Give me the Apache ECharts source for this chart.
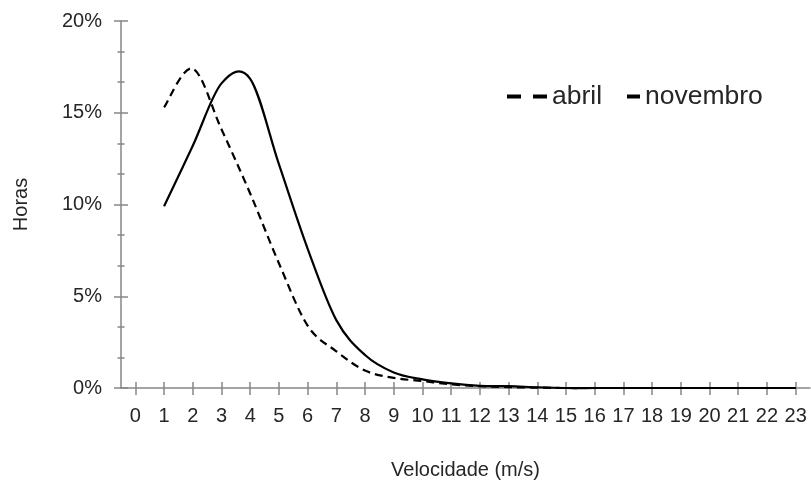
<!DOCTYPE html>
<html>
<head>
<meta charset="utf-8">
<script src="https://cdn.jsdelivr.net/npm/echarts@6/dist/echarts.min.js"></script>
<style>
  html, body { margin: 0; padding: 0; background: #ffffff; }
  #chart { width: 811px; height: 485px; }
</style>
</head>
<body>
<div id="chart"></div>
<script>
// Wind speed classes (m/s) shown along the horizontal axis
const speeds = ['0', '1', '2', '3', '4', '5', '6', '7', '8', '9', '10', '11',
                '12', '13', '14', '15', '16', '17', '18', '19', '20', '21', '22', '23'];

// Share of hours (%) per speed class
const abril = [null, 15.3, 17.4, 14.1, 10.6, 6.8, 3.4, 2.0, 0.95, 0.55, 0.38, 0.2,
               0.1, 0.05, 0.02, 0, 0, 0, 0, 0, 0, 0, 0, 0];
const novembro = [null, 9.9, 13.2, 16.6, 16.85, 12.2, 7.6, 3.7, 1.8, 0.85, 0.47, 0.25,
                  0.12, 0.1, 0.04, 0, 0, 0, 0, 0, 0, 0, 0, 0];

// Vertical scale (%)
const yMin = 0, yMax = 20, yStep = 5;

const FONT = "'Liberation Sans', Arial, sans-serif";
const TEXT = '#262626';
const AXIS = '#868686';

// [categoryIndex, value] pairs for the classes that have a value
function toPairs(values) {
  const out = [];
  values.forEach(function (v, i) { if (v != null) out.push([i, v]); });
  return out;
}

// Smoothed curve through the points (cardinal spline as cubic Béziers),
// positioned with the chart's own coordinate system.
function curveRenderer(pairs, stroke) {
  return function (params, api) {
    if (params.dataIndex !== 0) return null;
    const pts = pairs.map(function (p) { return api.coord(p); });
    let d = 'M' + pts[0][0] + ',' + pts[0][1];
    for (let i = 0; i < pts.length - 1; i++) {
      const p0 = pts[i - 1] || pts[i];
      const p1 = pts[i];
      const p2 = pts[i + 1];
      const p3 = pts[i + 2] || pts[i + 1];
      const c1x = p1[0] + (p2[0] - p0[0]) / 6, c1y = p1[1] + (p2[1] - p0[1]) / 6;
      const c2x = p2[0] - (p3[0] - p1[0]) / 6, c2y = p2[1] - (p3[1] - p1[1]) / 6;
      d += ' C' + c1x + ',' + c1y + ' ' + c2x + ',' + c2y + ' ' + p2[0] + ',' + p2[1];
    }
    return {
      type: 'path',
      shape: { pathData: d },
      style: Object.assign({ fill: 'none', stroke: '#000000', lineWidth: 2.2 }, stroke),
      silent: true
    };
  };
}

const abrilPairs = toPairs(abril);
const novembroPairs = toPairs(novembro);

const chart = echarts.init(document.getElementById('chart'), null, { renderer: 'canvas' });

const baseX = {
  type: 'category',
  data: speeds,
  boundaryGap: true,
  position: 'bottom'
};
const baseY = {
  type: 'value',
  min: yMin,
  max: yMax,
  interval: yStep,
  position: 'left'
};

chart.setOption({
  animation: false,
  backgroundColor: '#ffffff',
  textStyle: { fontFamily: FONT },
  grid: { left: 121, right: 1, top: 21, bottom: 97, containLabel: false },
  legend: [
    {
      data: ['abril'],
      left: 502, top: 78,
      icon: 'path://M0 0H14V4H0Z M26 0H40V4H26Z',
      itemWidth: 40, itemHeight: 4,
      itemStyle: { color: '#000000', borderWidth: 0 },
      textStyle: { fontFamily: FONT, fontSize: 26.5, color: TEXT }
    },
    {
      data: ['novembro'],
      left: 622, top: 78,
      icon: 'rect',
      itemWidth: 13, itemHeight: 4,
      itemStyle: { color: '#000000', borderWidth: 0 },
      textStyle: { fontFamily: FONT, fontSize: 26.5, color: TEXT }
    }
  ],
  xAxis: [
    Object.assign({}, baseX, {
      name: 'Velocidade (m/s)',
      nameLocation: 'middle',
      nameGap: 72,
      nameTextStyle: { fontFamily: FONT, fontSize: 20, color: TEXT },
      axisLine: { show: true, lineStyle: { color: AXIS, width: 1.5 } },
      axisTick: { show: true, alignWithLabel: true, length: 7, lineStyle: { color: AXIS, width: 1.5 } },
      axisLabel: { fontFamily: FONT, fontSize: 20, color: TEXT, margin: 18, interval: 0 },
      splitLine: { show: false }
    }),
    Object.assign({}, baseX, {
      axisLine: { show: false },
      axisTick: { show: true, inside: true, alignWithLabel: true, length: 6, lineStyle: { color: AXIS, width: 1.5 } },
      axisLabel: { show: false },
      splitLine: { show: false }
    })
  ],
  yAxis: [
    Object.assign({}, baseY, {
      name: 'Horas',
      nameLocation: 'middle',
      nameGap: 90,
      nameTextStyle: { fontFamily: FONT, fontSize: 20, color: TEXT },
      axisLine: { show: true, lineStyle: { color: AXIS, width: 1.5 } },
      axisTick: { show: true, length: 7, lineStyle: { color: AXIS, width: 1.5 } },
      minorTick: { show: true, splitNumber: 3, length: 3.5, lineStyle: { color: AXIS, width: 1.5 } },
      axisLabel: { fontFamily: FONT, fontSize: 20, color: TEXT, margin: 19, formatter: '{value}%' },
      splitLine: { show: false }
    }),
    Object.assign({}, baseY, {
      axisLine: { show: false },
      axisTick: { show: true, inside: true, length: 7, lineStyle: { color: AXIS, width: 1.5 } },
      minorTick: { show: true, splitNumber: 3, length: 3.5, lineStyle: { color: AXIS, width: 1.5 } },
      axisLabel: { show: false },
      splitLine: { show: false }
    })
  ],
  series: [
    {
      name: 'abril',
      type: 'custom',
      xAxisIndex: 0, yAxisIndex: 0,
      data: abrilPairs,
      encode: { x: 0, y: 1 },
      itemStyle: { color: '#000000' },
      renderItem: curveRenderer(abrilPairs, { lineDash: [8, 5] }),
      z: 3
    },
    {
      name: 'novembro',
      type: 'custom',
      xAxisIndex: 0, yAxisIndex: 0,
      data: novembroPairs,
      encode: { x: 0, y: 1 },
      itemStyle: { color: '#000000' },
      renderItem: curveRenderer(novembroPairs, {}),
      z: 4
    }
  ]
});
</script>
</body>
</html>
